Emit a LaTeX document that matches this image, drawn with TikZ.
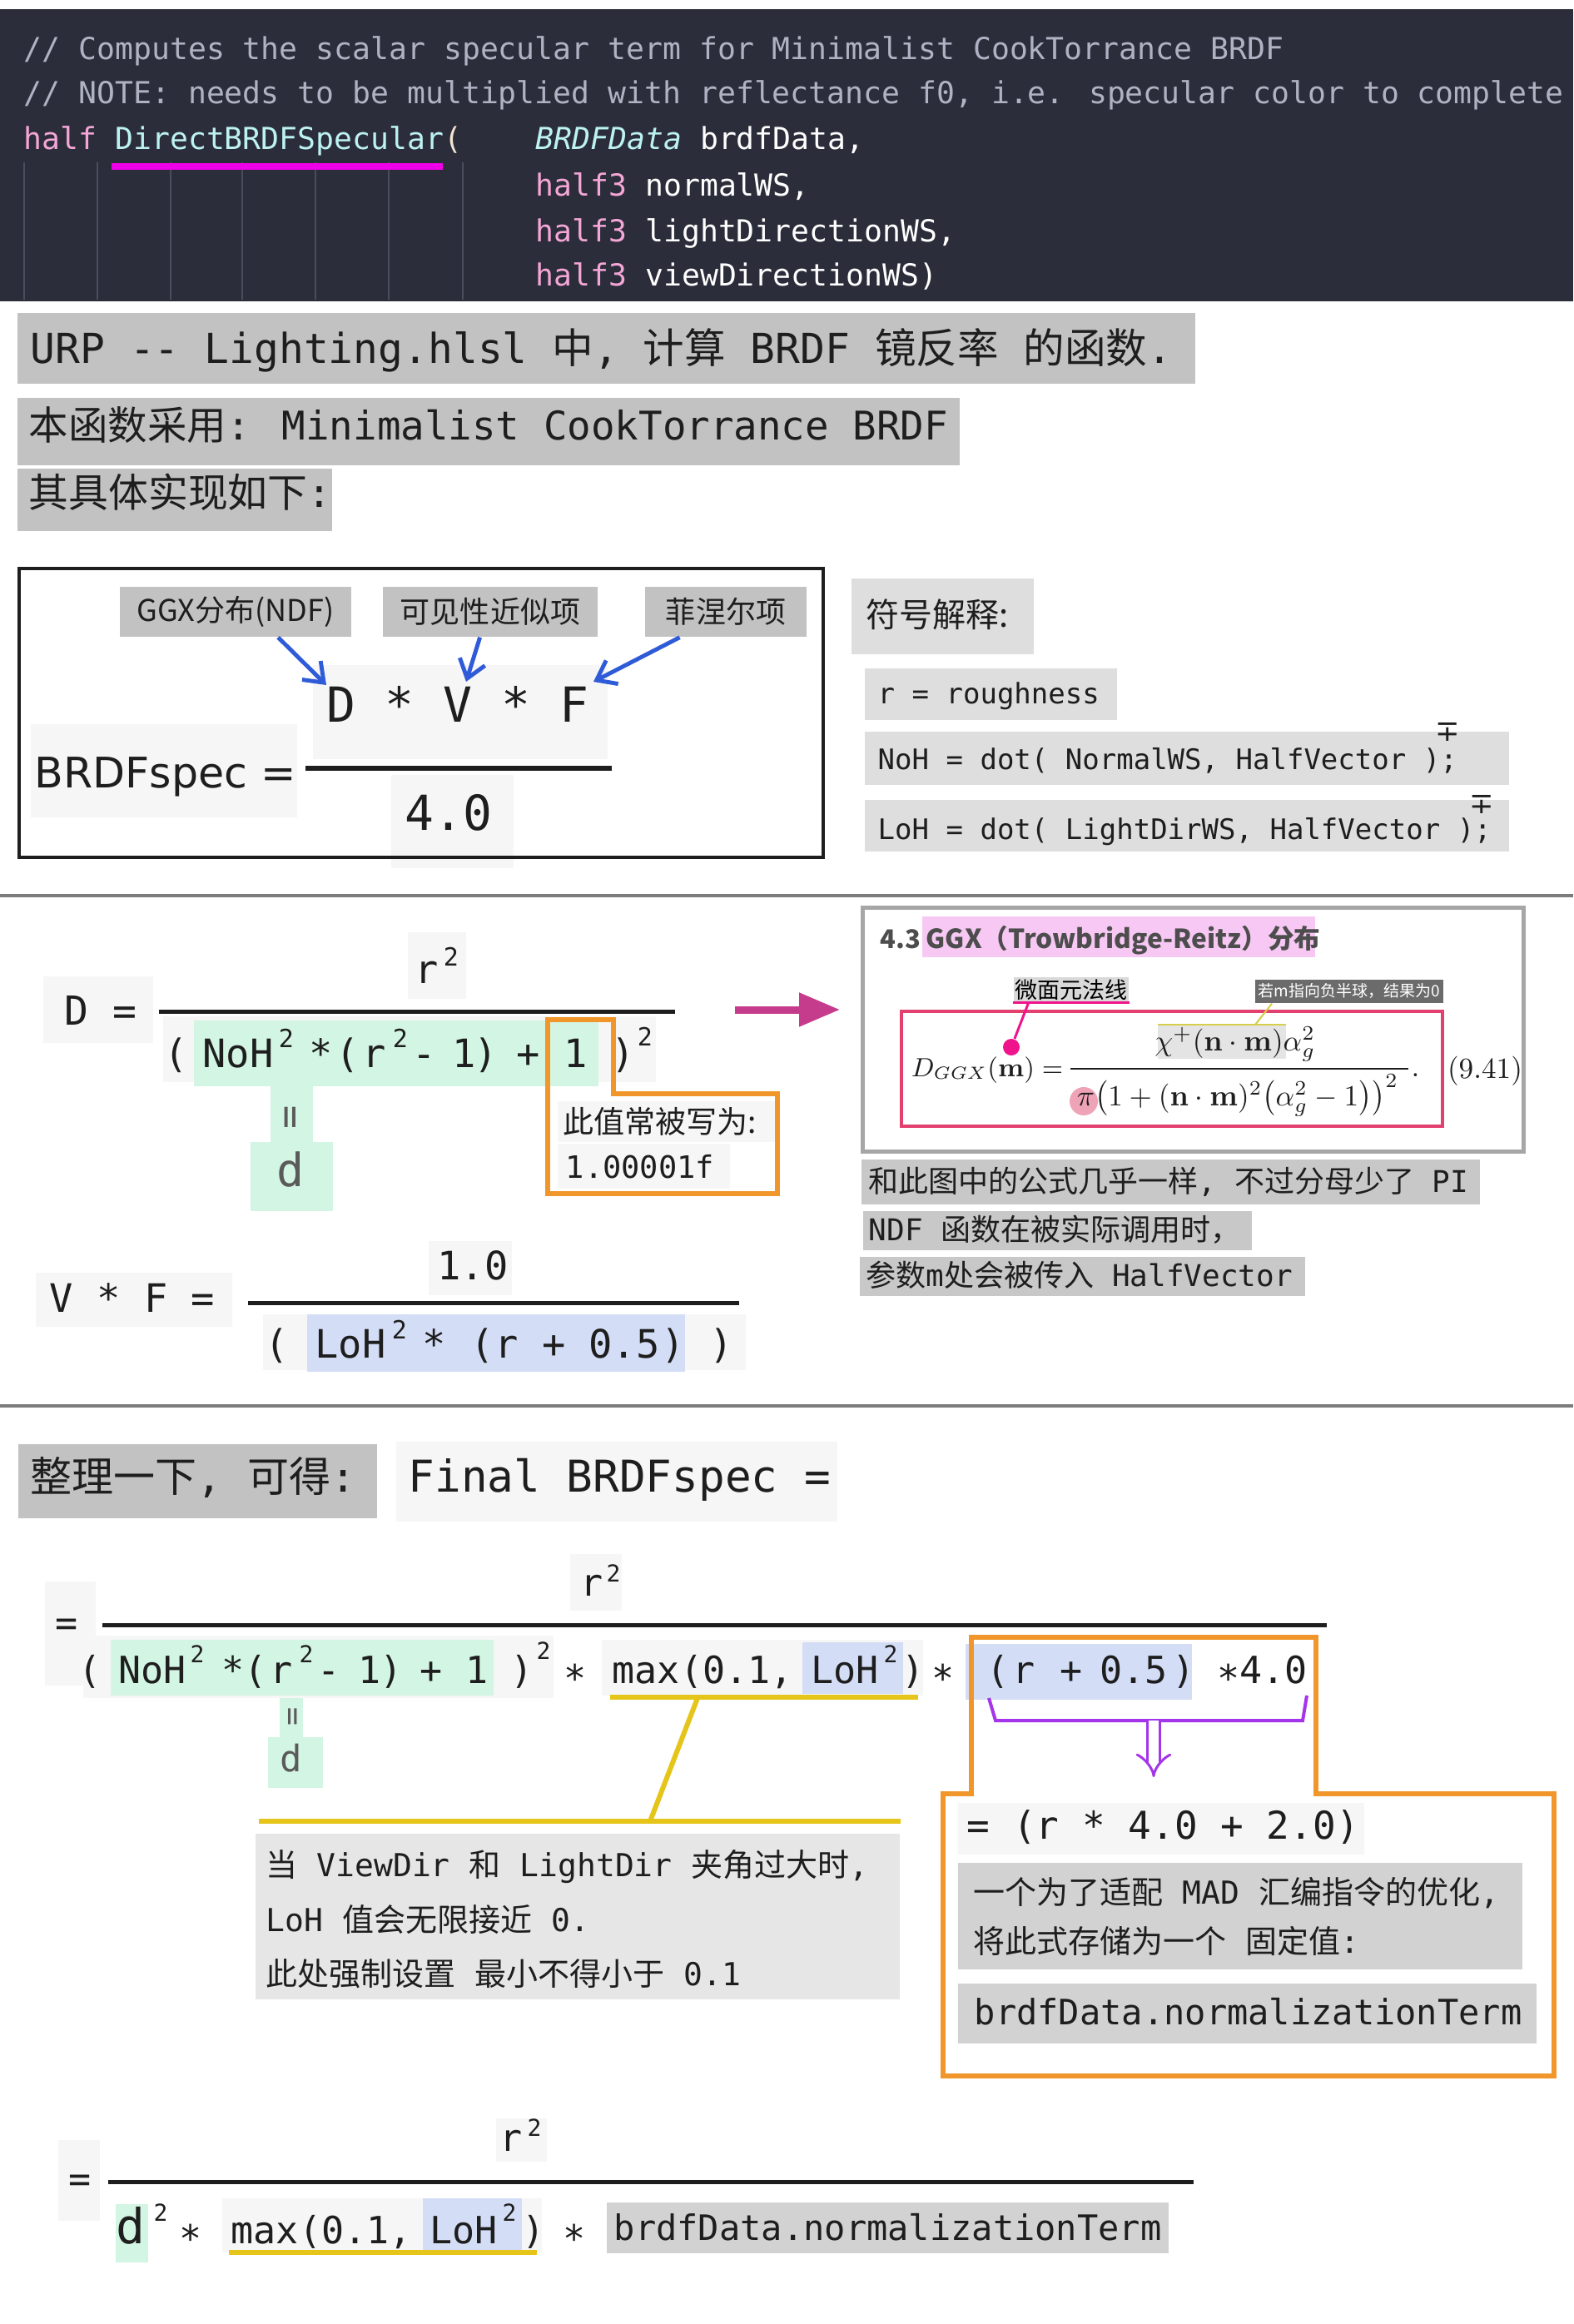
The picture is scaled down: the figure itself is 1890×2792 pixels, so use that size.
\documentclass[tikz,border=0pt]{standalone}
\usepackage[no-math]{fontspec}
\setmainfont{DejaVu Sans}
\newfontfamily\monofont{DejaVu Sans Mono}
\newfontfamily\cjkfont{Noto Sans CJK SC}
\newcommand\zh[1]{{\cjkfont #1}}
\newcommand\fsz[1]{\fontsize{#1}{#1}\selectfont}
\usetikzlibrary{arrows.meta}

\definecolor{codebg}{HTML}{2B2D3A}
\definecolor{codeguide}{HTML}{4A4D5E}
\definecolor{codecomment}{HTML}{AEB2C2}
\definecolor{codepink}{HTML}{F4A6D6}
\definecolor{codecyan}{HTML}{BDF2F2}
\definecolor{codeparen}{HTML}{F2E4D4}
\definecolor{hotmagenta}{HTML}{F000E8}
\definecolor{ink}{HTML}{1E1E1E}
\definecolor{titlegray}{HTML}{C2C2C2}
\definecolor{softbg}{HTML}{F6F6F6}
\definecolor{legendgray}{HTML}{DEDEDE}
\definecolor{descgray}{HTML}{C8C8C8}
\definecolor{notebg}{HTML}{E6E6E6}
\definecolor{termgray}{HTML}{D2D2D2}
\definecolor{mintbg}{HTML}{D3F5E3}
\definecolor{bluebg}{HTML}{D3DDF5}
\definecolor{arrowblue}{HTML}{2F5BD8}
\definecolor{boxorange}{HTML}{F0962A}
\definecolor{rulegray}{HTML}{7C7C7C}
\definecolor{arrowpink}{HTML}{C63C8C}
\definecolor{framegray}{HTML}{A6A6A6}
\definecolor{titlepink}{HTML}{F6C8F3}
\definecolor{titleink}{HTML}{4D4D4D}
\definecolor{redframe}{HTML}{E2406E}
\definecolor{dotmagenta}{HTML}{F0148C}
\definecolor{tagpale}{HTML}{D9D9D9}
\definecolor{darktag}{HTML}{6B6B6B}
\definecolor{chiyellow}{HTML}{D6CF4E}
\definecolor{numgray}{HTML}{E4E4E4}
\definecolor{pipink}{HTML}{EFA3B6}
\definecolor{goldline}{HTML}{E6C51A}
\definecolor{bracketviolet}{HTML}{A435EA}
\definecolor{dgray}{HTML}{5A5A5A}

\begin{document}
\begin{tikzpicture}[x=0.01cm,y=-0.01cm]

	\tikzstyle{codetext}=[anchor=west,inner sep=0pt,
		text height=0.73em,text depth=0pt,
		text=white,font=\monofont\fsz{10.36}]
	\tikzstyle{txt}=[inner sep=0pt,text=ink,
		text height=0.73em,text depth=0pt]
	\tikzstyle{tok}=[anchor=base,inner sep=0pt,text=ink]
	\tikzstyle{tagbox}=[fill=titlegray,inner sep=0pt,text=ink,
		minimum height=0.6cm,font=\cjkfont\fsz{10.24}]
	\tikzstyle{barline}=[draw=ink,line width=1.42pt]
	\tikzstyle{orangebox}=[draw=boxorange,line width=1.9pt,line join=miter]
	\tikzstyle{tagarrow}=[draw=arrowblue,line width=1.4pt,
		-{Straight Barb[length=6pt,width=9pt]}]
	\tikzstyle{goldrule}=[draw=goldline,line width=1.7pt]

	\useasboundingbox[fill=white] (0,0) rectangle (1890,2792);

	% code listing
	\fill[codebg] (0,11) rectangle (1890,362);
	\foreach \gx in {29,117,205,291,379,467,556}
		\draw[codeguide,line width=0.6pt] (\gx,195) -- (\gx,360);
	\node[codetext,text=codecomment] (cmtA) at (28,59)
		{// Computes the scalar specular term for Minimalist CookTorrance BRDF};
	\node[codetext,text=codecomment] (cmtB) at (28,112)
		{// NOTE: needs to be multiplied with reflectance f0, i.e. specular color to complete};
	\node[codetext] (fname) at (28,167)
		{\textcolor{codepink}{half} \textcolor{codecyan}{DirectBRDFSpecular}\textcolor{codeparen}{(}};
	\node[codetext] (argA) at (643,167) {\textcolor{codecyan}{\itshape BRDFData} brdfData,};
	\node[codetext] (argB) at (643,223) {\textcolor{codepink}{half3} normalWS,};
	\node[codetext] (argC) at (643,278) {\textcolor{codepink}{half3} lightDirectionWS,};
	\node[codetext] (argD) at (643,331) {\textcolor{codepink}{half3} viewDirectionWS)};
	\draw[hotmagenta,line width=2pt] (134,200) -- (532,200);

	% heading lines
	\fill[titlegray] (21,376) rectangle (1436,461);
	\fill[titlegray] (21,478) rectangle (1153,559);
	\fill[titlegray] (21,563) rectangle (399,638);
	\node[txt,anchor=west,font=\monofont\fsz{14.1}] (headA) at (36,424)
		{URP -{}- Lighting.hlsl \zh{中}, \zh{计算} BRDF \zh{镜反率} \zh{的函数}.};
	\node[txt,anchor=west,font=\monofont\fsz{13.5}] (headB) at (34,516)
		{\zh{本函数采用}: Minimalist CookTorrance BRDF};
	\node[txt,anchor=west,font=\monofont\fsz{13.6}] (headC) at (34,597)
		{\zh{其具体实现如下}:};

	% BRDFspec box
	\foreach \ax/\ay/\bx/\by in {376/799/730/912,470/931/617/1043,37/870/357/982}
		\fill[softbg] (\ax,\ay) rectangle (\bx,\by);
	\draw[ink,line width=1.14pt] (23,683) rectangle (989,1030);
	\node[tagbox,minimum width=2.77cm] (tagNDF) at (283,735) {GGX分布(NDF)};
	\node[tagbox,minimum width=2.58cm] (tagVis) at (589,735) {可见性近似项};
	\node[tagbox,minimum width=1.93cm] (tagFre) at (872,735) {菲涅尔项};
	\node[txt,font=\monofont\fsz{16.5}] (dvf) at (550,855) {D * V * F};
	\node[txt,font=\monofont\fsz{16.5}] (four) at (539,985) {4.0};
	\node[tok,anchor=base west,font=\fsz{14.4}] (spec) at (41,946) {BRDFspec =};
	\draw[ink,line width=1.71pt] (367,923) -- (735,923);
	\coordinate (hitD) at (392,823);
	\coordinate (hitV) at (560,819);
	\coordinate (hitF) at (713,819);
	\draw[tagarrow] (tagNDF.-31) -- (hitD);
	\draw[tagarrow] (tagVis.-112) -- (hitV);
	\draw[tagarrow] (tagFre.-151) -- (hitF);

	% symbol legend
	\foreach \ax/\ay/\bx/\by in {1023/695/1242/786,1039/803/1342/865,1039/879/1813/943,1039/961/1813/1023}
		\fill[legendgray] (\ax,\ay) rectangle (\bx,\by);
	\node[txt,anchor=west,font=\cjkfont\fsz{11.38}] (symhead) at (1040,741) {符号解释:};
	\node[txt,anchor=west,font=\monofont\fsz{9.67}] (symR) at (1054,833) {r = roughness};
	\node[txt,anchor=west,font=\monofont\fsz{9.67}] (symN) at (1054,912) {NoH = dot( NormalWS, HalfVector );};
	\node[txt,anchor=west,font=\monofont\fsz{9.67}] (symL) at (1054,996) {LoH = dot( LightDirWS, HalfVector );};
	\node[txt,font=\fsz{10}] (mpN) at (1739,878) {∓};
	\node[txt,font=\fsz{10}] (mpL) at (1780,965) {∓};

	\draw[rulegray,line width=1.14pt] (0,1076) -- (1890,1076);
	\draw[rulegray,line width=1.14pt] (0,1689) -- (1890,1689);

	% D and V*F
	\foreach \ax/\ay/\bx/\by in {52/1173/184/1253,490/1120/560/1200,196/1221/788/1300,670/1323/931/1372,670/1374/877/1428,43/1529/279/1594,515/1491/615/1556,316/1579/896/1646}
		\fill[softbg] (\ax,\ay) rectangle (\bx,\by);
	\foreach \ax/\ay/\bx/\by in {233/1226/719/1305,325/1305/376/1372,301/1372/400/1455}
		\fill[mintbg] (\ax,\ay) rectangle (\bx,\by);
	\fill[bluebg] (369,1579) rectangle (823,1648);
	\node[txt,font=\monofont\fsz{13.66}] (dlhs) at (121,1219) {D =};
	\node[tok,font=\monofont\fsz{13.37}] (dnum) at (513,1181) {r};
	\node[tok,font=\monofont\fsz{8.54}] (dnumsq) at (542,1160) {2};
	\draw[barline] (191,1215) -- (811,1215);
	\foreach[count=\i] \tx/\tt in {212/{(},286/{NoH},386/{*},418/{(},450/{r},510/{-},558/{1},584/{)},635/{+},692/{1},749/{)}}
		\node[tok,font=\monofont\fsz{13.37}] (dden\i) at (\tx,1282) {\tt};
	\foreach[count=\i] \sx/\sy in {344/1258,481/1258,775/1256}
		\node[tok,font=\monofont\fsz{8.54}] (dsq\i) at (\sx,\sy) {2};
	\draw[orangebox] (658,1225) -- (737,1225) -- (737,1314) -- (934,1314) -- (934,1434) -- (658,1434) -- cycle;
	\node[txt,anchor=west,font=\cjkfont\fsz{10.53}] (oftenA) at (676,1349) {此值常被写为:};
	\node[txt,anchor=west,font=\monofont\fsz{10.53}] (oftenB) at (679,1403) {1.00001f};
	\node[txt,rotate=90,text=dgray,font=\monofont\fsz{13.37}] (deq) at (351,1342) {=};
	\node[txt,text=dgray,font=\monofont\fsz{15.65}] (dd) at (349,1413) {d};

	\node[txt,font=\monofont\fsz{13.37}] (vflhs) at (159,1564) {V * F =};
	\node[txt,font=\monofont\fsz{13.37}] (vfnum) at (568,1525) {1.0};
	\draw[barline] (298,1565) -- (888,1565);
	\foreach[count=\i] \tx/\tt in {333/{(},421/{LoH},522/{*},580/{(},609/{r},666/{+},750/{0.5},809/{)},867/{)}}
		\node[tok,font=\monofont\fsz{13.37}] (vfden\i) at (\tx,1631) {\tt};
	\node[tok,font=\monofont\fsz{8.54}] (vfsq) at (480,1608) {2};

	% GGX excerpt
	\node[draw=framegray,line width=1.42pt,fill=white,inner sep=0pt,
		minimum width=7.93cm,minimum height=2.92cm] (ggx) at (1433.5,1237) {};
	\coordinate (arrS) at (883,1213);
	\draw[arrowpink,line width=2.56pt,-{Triangle[length=14pt,width=11pt]},shorten >=0.25cm]
		(arrS) -- (ggx.west |- arrS);
	\fill[titlepink] (1108,1101) rectangle (1580,1150);
	\node[txt,anchor=west,text=titleink,font=\cjkfont\bfseries\fsz{8.8}] (ggxsec) at (1057,1127) {4.3};
	\node[txt,anchor=west,text=titleink,font=\cjkfont\bfseries\fsz{9}] (ggxtitle) at (1112,1127)
		{GGX（Trowbridge-Reitz）分布};
	\draw[redframe,line width=1.14pt] (1083,1215) rectangle (1733,1353);
	\fill[numgray] (1391,1232) rectangle (1545,1272);
	\fill[pipink] (1302,1323) circle[radius=17];
	\draw[chiyellow,line width=0.6pt] (1391,1231) -- (1545,1231);
	\node[tok,anchor=base east,font=\fsz{9}] (ggxlhs) at (1278,1293) {$D_{GGX}(\mathbf{m}) =$};
	\node[tok,font=\fsz{10}] (ggxnum) at (1484,1262) {$\chi^+(\mathbf{n}\cdot\mathbf{m})\alpha_g^2$};
	\draw[ink,line width=0.5pt] (1286,1284) -- (1692,1284);
	\node[tok,font=\fsz{10}] (ggxden) at (1487,1328)
		{$\pi\bigl(1+(\mathbf{n}\cdot\mathbf{m})^2\bigl(\alpha_g^2-1\bigr)\bigr)^2$};
	\node[tok,anchor=base west,font=\fsz{10}] (ggxdot) at (1695,1293) {$.$};
	\node[txt,font=\fsz{10}] (ggxeq) at (1784,1283) {$(9.41)$};
	\node[fill=tagpale,inner sep=0pt,minimum width=1.38cm,minimum height=0.3cm,
		font=\cjkfont\fsz{7.68}] (mnormal) at (1287,1189) {微面元法线};
	\draw[dotmagenta,line width=0.85pt] (mnormal.south west) -- (mnormal.south east);
	\node[circle,fill=dotmagenta,minimum size=0.2cm,inner sep=0pt] (mdot) at (1215,1258) {};
	\draw[dotmagenta,line width=0.85pt] (mnormal.-163) -- (mdot);
	\node[fill=darktag,text=white,inner sep=0pt,minimum width=2.26cm,minimum height=0.28cm,
		font=\cjkfont\fsz{5.41}] (chitag) at (1621,1191) {若m指向负半球，结果为0};
	\coordinate (chiline) at (1508,1231);
	\draw[chiyellow,line width=0.6pt] (chitag.-171) -- (chiline);

	\foreach \ax/\ay/\bx/\by in {1035/1393/1778/1447,1037/1455/1504/1502,1033/1510/1568/1557}
		\fill[descgray] (\ax,\ay) rectangle (\bx,\by);
	\node[txt,anchor=west,font=\monofont\fsz{10.24}] (noteA) at (1043,1420)
		{\zh{和此图中的公式几乎一样}, \zh{不过分母少了} PI};
	\node[txt,anchor=west,font=\monofont\fsz{10.24}] (noteB) at (1043,1478)
		{NDF \zh{函数在被实际调用时，}};
	\node[txt,anchor=west,font=\monofont\fsz{10.24}] (noteC) at (1040,1533)
		{\zh{参数}m\zh{处会被传入} HalfVector};

	% final form
	\fill[titlegray] (22,1735) rectangle (453,1824);
	\fill[softbg] (476,1732) rectangle (1006,1828);
	\node[txt,anchor=west,font=\monofont\fsz{14.23}] (sumup) at (36,1780) {\zh{整理一下}, \zh{可得}:};
	\node[txt,anchor=west,font=\monofont\fsz{14.97}] (finalhd) at (490,1780) {Final BRDFspec =};

	\foreach \ax/\ay/\bx/\by in {54/1900/115/2025,685/1867/747/1935,100/1965/665/2040,723/1970/1109/2037,1151/2166/1639/2228,70/2571/120/2668,596/2545/657/2597,267/2641/651/2706}
		\fill[softbg] (\ax,\ay) rectangle (\bx,\by);
	\foreach \ax/\ay/\bx/\by in {133/1970/593/2037,336/2040/364/2087,322/2087/388/2148,139/2648/178/2718}
		\fill[mintbg] (\ax,\ay) rectangle (\bx,\by);
	\foreach \ax/\ay/\bx/\by in {964/1973/1085/2035,1160/1975/1432/2042,508/2641/627/2703}
		\fill[bluebg] (\ax,\ay) rectangle (\bx,\by);
	\fill[notebg] (307,2203) rectangle (1081,2402);
	\foreach \ax/\ay/\bx/\by in {1151/2238/1829/2366,1151/2383/1846/2455,729/2646/1404/2707}
		\fill[termgray] (\ax,\ay) rectangle (\bx,\by);

	\node[txt,font=\monofont\fsz{12.8}] (flhs) at (80,1953) {=};
	\node[tok,font=\monofont\fsz{12.8}] (fnum) at (711,1917) {r};
	\node[tok,font=\monofont\fsz{7.97}] (fnumsq) at (737,1900) {2};
	\draw[barline] (123,1952) -- (1594,1952);
	\foreach[count=\i] \tx/\tt in {108/{(},183/{NoH},280/{*},307/{(},338/{r},395/{-},444/{1},470/{)},518/{+},573/{1},627/{)},1015/{LoH},1097/{)},1199/{(},1230/{r},1287/{+},1362/{0.5},1422/{)}}
		\node[tok,font=\monofont\fsz{12.8}] (fden\i) at (\tx,2022) {\tt};
	\foreach[count=\i] \tx in {691,1133,1476}
		\node[tok,font=\monofont\fsz{12.8}] (fstar\i) at (\tx,2032) {*};
	\node[tok,anchor=base west,font=\monofont\fsz{12.8}] (fmax) at (735,2022) {max(0.1,};
	\node[tok,anchor=base west,font=\monofont\fsz{12.8}] (ffour) at (1489,2022) {4.0};
	\foreach[count=\i] \sx/\sy in {237/1997,368/1997,653/1993,1070/1997}
		\node[tok,font=\monofont\fsz{7.97}] (fsq\i) at (\sx,\sy) {2};
	\node[txt,rotate=90,text=dgray,font=\monofont\fsz{10.5}] (feq) at (350,2062) {=};
	\node[txt,text=dgray,font=\monofont\fsz{12.5}] (fd) at (350,2116) {d};

	\draw[goldrule] (733,2039) -- (1103,2039);
	\coordinate (maxline) at (838,2040);
	\coordinate (noteline) at (781,2188);
	\draw[goldrule] (maxline) -- (noteline);
	\draw[goldrule] (311,2188) -- (1082,2188);
	\node[txt,anchor=west,font=\monofont\fsz{10.81}] (whyA) at (319,2242)
		{\zh{当} ViewDir \zh{和} LightDir \zh{夹角过大时}, };
	\node[txt,anchor=west,font=\monofont\fsz{10.81}] (whyB) at (319,2308)
		{LoH \zh{值会无限接近} 0.};
	\node[txt,anchor=west,font=\monofont\fsz{10.81}] (whyC) at (319,2373)
		{\zh{此处强制设置} \zh{最小不得小于} 0.1};

	\draw[orangebox] (1167,1967) -- (1581,1967) -- (1581,2155) -- (1867,2155) -- (1867,2494)
		-- (1133,2494) -- (1133,2155) -- (1167,2155) -- cycle;
	\draw[bracketviolet,line width=1.14pt] (1188,2040) -- (1196,2067) -- (1565,2067) -- (1570,2037);
	\coordinate (brkmid) at (1386,2067);
	\coordinate (brkend) at (1386,2135);
	\draw[bracketviolet,line width=0.85pt,double=white,double distance=3.4pt,-{Implies}] (brkmid) -- (brkend);
	\node[txt,anchor=west,font=\monofont\fsz{13.09}] (madA) at (1161,2197) {= (r * 4.0 + 2.0)};
	\node[txt,anchor=west,font=\monofont\fsz{10.81}] (madB) at (1169,2275)
		{\zh{一个为了适配} MAD \zh{汇编指令的优化}, };
	\node[txt,anchor=west,font=\monofont\fsz{10.81}] (madC) at (1169,2334)
		{\zh{将此式存储为一个} \zh{固定值}:};
	\node[txt,anchor=west,font=\monofont\fsz{11.95}] (normterm) at (1170,2420) {brdfData.normalizationTerm};

	% last line
	\node[txt,font=\monofont\fsz{12.8}] (llhs) at (96,2621) {=};
	\node[tok,font=\monofont\fsz{12.8}] (lnum) at (614,2584) {r};
	\node[tok,font=\monofont\fsz{7.97}] (lnumsq) at (642,2566) {2};
	\draw[barline] (130,2621) -- (1434,2621);
	\node[tok,font=\monofont\fsz{16.5}] (ld) at (157,2695) {d};
	\node[tok,font=\monofont\fsz{7.97}] (ldsq) at (193,2668) {2};
	\node[tok,font=\monofont\fsz{12.8}] (lstarA) at (229,2705) {*};
	\node[tok,anchor=base west,font=\monofont\fsz{12.8}] (lmax) at (277,2695) {max(0.1,};
	\node[tok,font=\monofont\fsz{12.8}] (lloh) at (557,2695) {LoH};
	\node[tok,font=\monofont\fsz{7.97}] (llohsq) at (612,2668) {2};
	\node[tok,font=\monofont\fsz{12.8}] (lclose) at (641,2695) {)};
	\node[tok,font=\monofont\fsz{12.8}] (lstarB) at (690,2705) {*};
	\node[tok,anchor=base west,font=\monofont\fsz{11.95}] (lterm) at (737,2691) {brdfData.normalizationTerm};
	\draw[goldrule] (275,2706) -- (645,2706);

\end{tikzpicture}
\end{document}
